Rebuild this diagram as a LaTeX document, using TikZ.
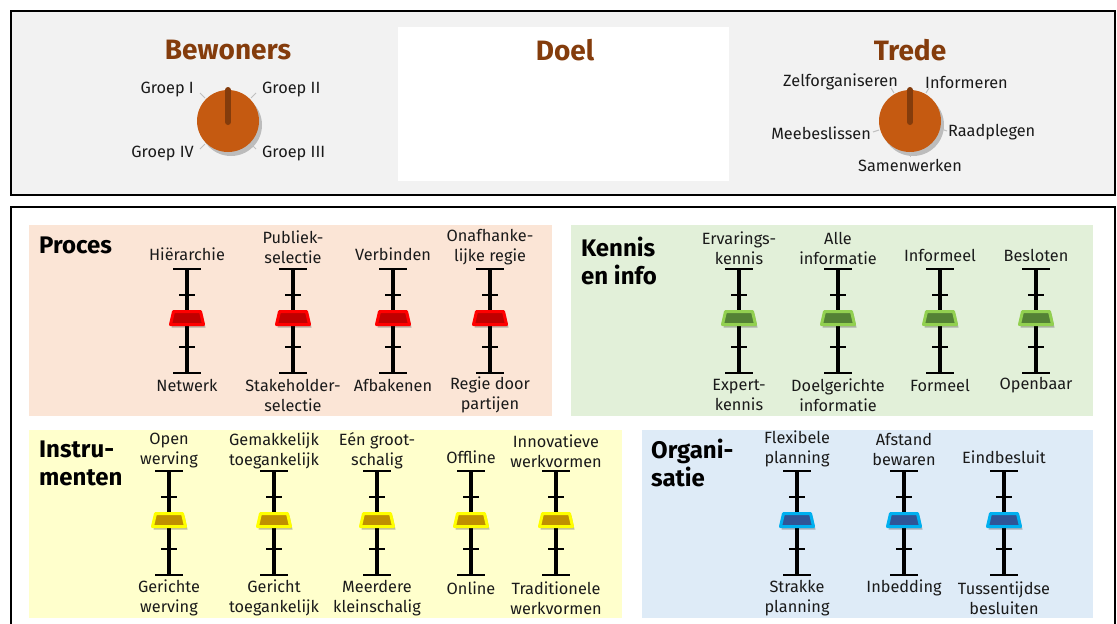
\documentclass[tikz,border=0pt]{standalone}
\usepackage{fontspec}
\setmainfont{Fira Sans}
\definecolor{framegray}{HTML}{F2F2F2}
\definecolor{titlebrown}{HTML}{843C0C}
\definecolor{knoborange}{HTML}{C55A11}
\definecolor{pointerbrown}{HTML}{843C0C}
\definecolor{tickgray}{HTML}{BFBFBF}
\definecolor{peachbg}{HTML}{FBE5D6}
\definecolor{greenbg}{HTML}{E2F0D9}
\definecolor{yellowbg}{HTML}{FFFFCC}
\definecolor{bluebg}{HTML}{DEEBF7}
\definecolor{redborder}{HTML}{FF0000}
\definecolor{redfill}{HTML}{C00000}
\definecolor{greenborder}{HTML}{92D050}
\definecolor{greenfill}{HTML}{548235}
\definecolor{yellowborder}{HTML}{FFFF00}
\definecolor{yellowfill}{HTML}{BF9000}
\definecolor{blueborder}{HTML}{00B0F0}
\definecolor{bluefill}{HTML}{2F5597}
\definecolor{labeltext}{HTML}{1A1A1A}
\newcommand\mkslider[4]{%
  \draw[line width=4pt] (#1,#2) -- (#1,#2+104);
  \draw[line width=2.5pt] (#1-14,#2) -- (#1+14,#2);
  \draw[line width=2.5pt] (#1-14,#2+104) -- (#1+14,#2+104);
  \draw[line width=1.5pt] (#1-8,#2+26) -- (#1+8,#2+26);
  \draw[line width=1.5pt] (#1-8,#2+78) -- (#1+8,#2+78);
  \fill[black,opacity=0.25] (#1-12.5,#2+44.5) -- (#1+15.5,#2+44.5) -- (#1+18.5,#2+58.5) -- (#1-15.5,#2+58.5) -- cycle;
  \draw[line width=3pt,line join=round,draw=#3,fill=#4] (#1-13.5,#2+42.5) -- (#1+13.5,#2+42.5) -- (#1+16.5,#2+55.5) -- (#1-16.5,#2+55.5) -- cycle;
}
\begin{document}
\begin{tikzpicture}[x=1pt,y=-1pt,
  lbl/.style={font=\fontsize{16.3}{20}\selectfont,align=center,inner sep=0pt,text=labeltext},
  bigtitle/.style={font=\fontsize{28}{30}\selectfont\bfseries,text=titlebrown,inner sep=0pt},
  sectitle/.style={font=\fontsize{24}{28}\selectfont\bfseries,align=left,inner sep=0pt,anchor=north west,text=black},
  frame/.style={draw=black,line width=2pt},
  dialtick/.style={draw=tickgray,line width=1pt},
  pointer/.style={draw=pointerbrown,line width=6pt,line cap=round}]
\useasboundingbox (0,0) rectangle (1117,624);
\fill[white] (0,0) rectangle (1117,624);
% frames
\draw[frame,fill=framegray] (11,11) rectangle (1115,195);
\draw[frame] (11,207) rectangle (1115,640);
\fill[white] (398,27) rectangle (729,181);
% titles
\node[bigtitle] (tbew) at (228,50) {Bewoners};
\node[bigtitle] (tdoel) at (565,50) {Doel};
\node[bigtitle] (ttrede) at (910,50) {Trede};
% Bewoners dial
\fill[black,opacity=0.22] (231,125) circle (31);
\node[circle,fill=knoborange,minimum size=62pt,inner sep=0pt] (bk) at (228,121) {};
\draw[pointer] (228,122) -- (228,90);
\draw[dialtick] (205,98) -- (200,93);
\draw[dialtick] (251,98) -- (256,93);
\draw[dialtick] (205,144) -- (200,149);
\draw[dialtick] (251,144) -- (256,149);
\node[lbl,anchor=east] (g1) at (194,90) {Groep I};
\node[lbl,anchor=west] (g2) at (262,90) {Groep II};
\node[lbl,anchor=east] (g4) at (194,154) {Groep IV};
\node[lbl,anchor=west] (g3) at (262,154) {Groep III};
% Trede dial
\fill[black,opacity=0.22] (913,125) circle (31);
\node[circle,fill=knoborange,minimum size=62pt,inner sep=0pt] (tk) at (910,121) {};
\draw[pointer] (910,122) -- (910,90);
\draw[dialtick] (894,93) -- (891,88);
\draw[dialtick] (926,93) -- (929,88);
\draw[dialtick] (941,129) -- (947,131);
\draw[dialtick] (879,130) -- (873,132);
\draw[dialtick] (910,152) -- (910,157);
\node[lbl,anchor=east] (z) at (898,82) {Zelforganiseren};
\node[lbl,anchor=west] (inf) at (925,82) {Informeren};
\node[lbl,anchor=west] (raad) at (948,132) {Raadplegen};
\node[lbl,anchor=east] (mee) at (871,133) {Meebeslissen};
\node[lbl] (sam) at (910,165) {Samenwerken};
% section boxes
\fill[peachbg] (29,225) rectangle (552,416);
\fill[greenbg] (571,225) rectangle (1093,416);
\fill[yellowbg] (29,430) rectangle (622,618);
\fill[bluebg] (642,430) rectangle (1093,618);
% Proces
\node[sectitle] (proc) at (39,237) {Proces};
\mkslider{187}{269}{redborder}{redfill}
\mkslider{293}{269}{redborder}{redfill}
\mkslider{393}{269}{redborder}{redfill}
\mkslider{490}{269}{redborder}{redfill}
\node[lbl] (p1t) at (187,254) {Hiërarchie};
\node[lbl] (p2t) at (293,247) {Publiek-\\selectie};
\node[lbl] (p3t) at (393,254) {Verbinden};
\node[lbl] (p4t) at (490,247) {Onafhanke-\\lijke regie};
\node[lbl] (p1b) at (187,385) {Netwerk};
\node[lbl] (p2b) at (293,395) {Stakeholder-\\selectie};
\node[lbl] (p3b) at (393,385) {Afbakenen};
\node[lbl] (p4b) at (490,395) {Regie door\\partijen};
% Kennis en info
\node[sectitle] (kenn) at (581,237) {Kennis\\en info};
\mkslider{739}{269}{greenborder}{greenfill}
\mkslider{838}{269}{greenborder}{greenfill}
\mkslider{940}{269}{greenborder}{greenfill}
\mkslider{1036}{269}{greenborder}{greenfill}
\node[lbl] (k1t) at (739,248) {Ervarings-\\kennis};
\node[lbl] (k2t) at (838,248) {Alle\\informatie};
\node[lbl] (k3t) at (940,255) {Informeel};
\node[lbl] (k4t) at (1036,255) {Besloten};
\node[lbl] (k1b) at (739,395) {Expert-\\kennis};
\node[lbl] (k2b) at (838,395) {Doelgerichte\\informatie};
\node[lbl] (k3b) at (940,385) {Formeel};
\node[lbl] (k4b) at (1036,385) {Openbaar};
% Instrumenten
\node[sectitle] (instr) at (39,441) {Instru-\\menten};
\mkslider{169}{471}{yellowborder}{yellowfill}
\mkslider{274}{471}{yellowborder}{yellowfill}
\mkslider{377}{471}{yellowborder}{yellowfill}
\mkslider{471}{471}{yellowborder}{yellowfill}
\mkslider{556}{471}{yellowborder}{yellowfill}
\node[lbl] (i1t) at (169,451) {Open\\werving};
\node[lbl] (i2t) at (274,451) {Gemakkelijk\\toegankelijk};
\node[lbl] (i3t) at (377,451) {Eén groot-\\schalig};
\node[lbl] (i4t) at (471,457) {Offline};
\node[lbl] (i5t) at (556,451) {Innovatieve\\werkvormen};
\node[lbl] (i1b) at (169,598) {Gerichte\\werving};
\node[lbl] (i2b) at (274,598) {Gericht\\toegankelijk};
\node[lbl] (i3b) at (377,598) {Meerdere\\kleinschalig};
\node[lbl] (i4b) at (471,588) {Online};
\node[lbl] (i5b) at (556,598) {Traditionele\\werkvormen};
% Organisatie
\node[sectitle] (org) at (651,439) {Organi-\\satie};
\mkslider{797}{471}{blueborder}{bluefill}
\mkslider{904}{471}{blueborder}{bluefill}
\mkslider{1004}{471}{blueborder}{bluefill}
\node[lbl] (o1t) at (797,449) {Flexibele\\planning};
\node[lbl] (o2t) at (904,449) {Afstand\\bewaren};
\node[lbl] (o3t) at (1004,457) {Eindbesluit};
\node[lbl] (o1b) at (797,598) {Strakke\\planning};
\node[lbl] (o2b) at (904,588) {Inbedding};
\node[lbl] (o3b) at (1004,598) {Tussentijdse\\besluiten};
\end{tikzpicture}
\end{document}
